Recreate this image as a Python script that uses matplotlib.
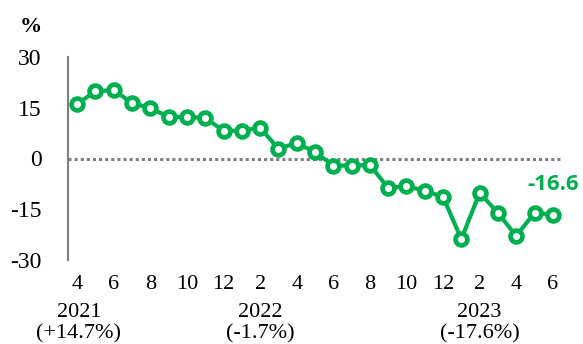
import matplotlib.pyplot as plt

# 월별 증감률 (2021.4 ~ 2023.6)
values = [16.1, 19.9, 20.2, 16.4, 14.9, 12.3, 12.3, 12.0, 8.2, 8.2, 9.1, 2.9,
          4.6, 1.9, -2.1, -2.1, -1.9, -8.7, -8.2, -9.5, -11.4, -23.8, -10.1,
          -16.1, -22.9, -16.0, -16.6]
months = [4, 5, 6, 7, 8, 9, 10, 11, 12, 1, 2, 3, 4, 5, 6, 7, 8, 9, 10, 11, 12,
          1, 2, 3, 4, 5, 6]
years = ['2021\n(+14.7%)', '2022\n(-1.7%)', '2023\n(-17.6%)']
year_pos = [0.1, 10, 22]
last_label = '-16.6'

green = '#00B050'
serif = 'Liberation Serif'

fig = plt.figure(figsize=(5.83, 3.44), dpi=100)
ax = fig.add_axes([68 / 583, 1 - 260 / 344, 494 / 583, 203 / 344])

x = list(range(len(values)))
ax.axhline(0, color='#7f7f7f', linestyle=(0, (1, 1)), linewidth=2.2, zorder=1)
ax.plot(x, values, color=green, linewidth=3, marker='o', markersize=8.5,
        markerfacecolor='white', markeredgecolor=green, markeredgewidth=3.4,
        zorder=3, clip_on=False)

ax.set_xlim(-0.5, 26.5)
ax.set_ylim(-30, 30)
ax.set_yticks([30, 15, 0, -15, -30])
ax.set_yticklabels(['30', '15', '0', '-15', '-30'], fontfamily=serif, fontsize=17)

tick_idx = [i for i in x if i % 2 == 0]
ax.set_xticks(tick_idx)
ax.set_xticklabels([str(months[i]) for i in tick_idx], fontfamily=serif, fontsize=16)
ax.tick_params(axis='y', length=0, pad=19)
ax.tick_params(axis='x', length=0, pad=11)

for s in ['top', 'right', 'bottom']:
    ax.spines[s].set_visible(False)
ax.spines['left'].set_color('#7f7f7f')
ax.spines['left'].set_linewidth(1.5)

for p, t in zip(year_pos, years):
    ax.text(p, -0.21, t, transform=ax.get_xaxis_transform(), ha='center',
            va='top', fontfamily=serif, fontsize=16, linespacing=1.2)

ax.text(x[-1], values[-1] + 9, last_label, ha='center', va='center',
        color=green, fontweight='bold', fontfamily='Open Sans', fontsize=16)

fig.text(31 / 583, 1 - 27 / 344, '%', ha='center', va='center',
         fontfamily=serif, fontweight='bold', fontsize=16)

fig.savefig('out.png', dpi=100)
